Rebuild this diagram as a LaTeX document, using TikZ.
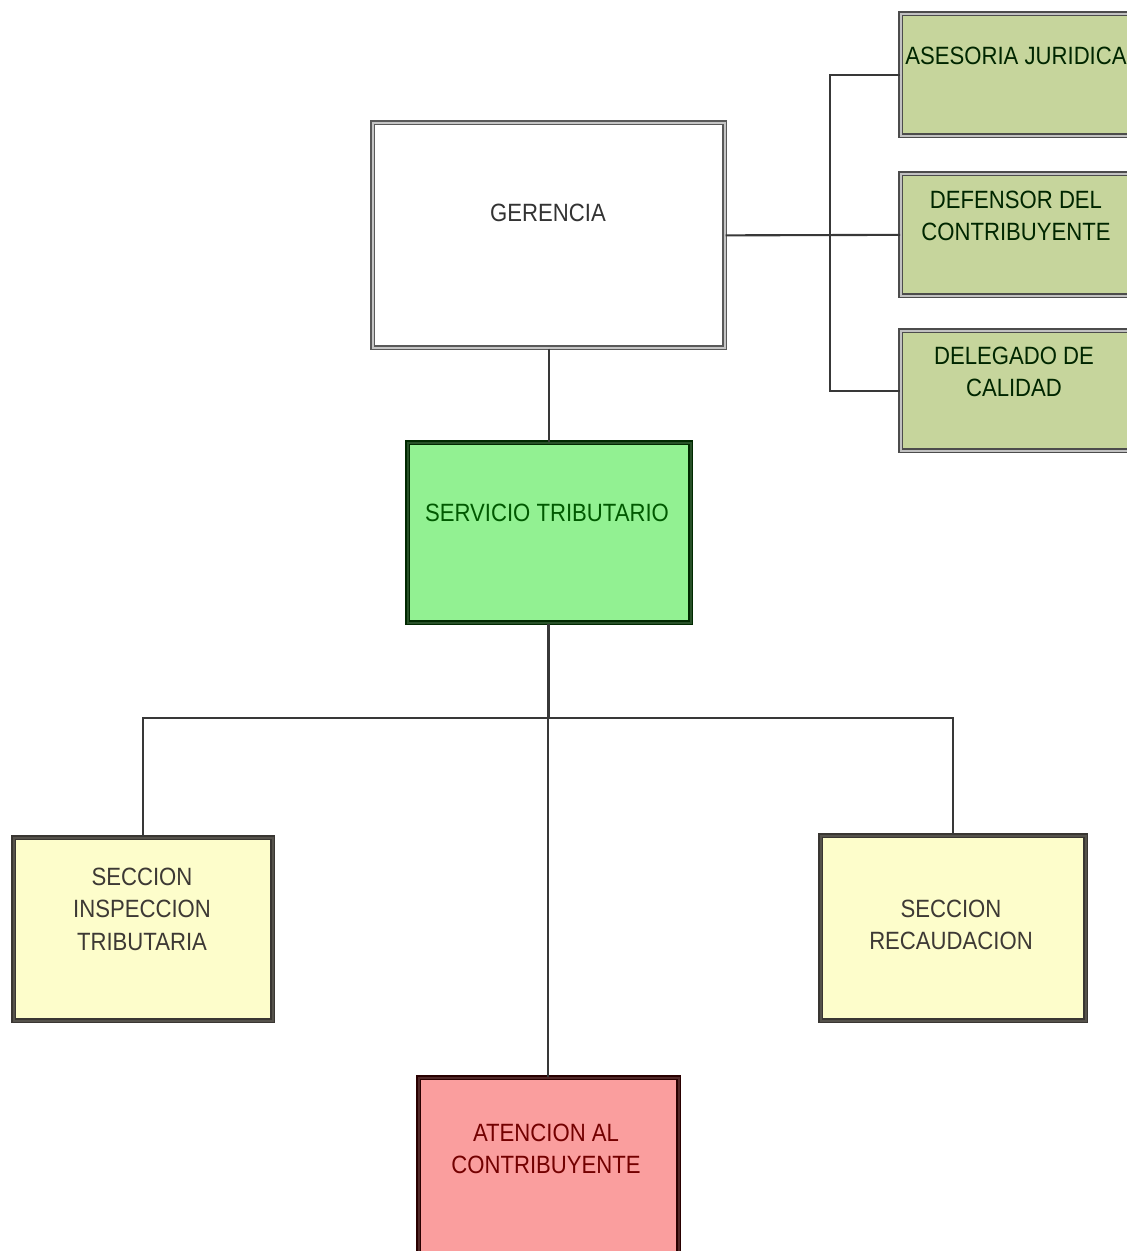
\documentclass[tikz,border=0pt]{standalone}
\usepackage{fontspec}
\setmainfont[FakeStretch=0.885]{Liberation Sans}
\begin{document}
\begin{tikzpicture}[x=1pt,y=-1pt,
  box/.style={rectangle, draw=#1, line width=1.7pt, double=white!65!#1, double distance=1.8pt, inner sep=0pt, anchor=north west},
  lbl/.style={font=\fontsize{25}{32.5}\selectfont, align=center, inner sep=0pt},
  conn/.style={draw=black!78, line width=2.1pt}
]
\definecolor{olivefill}{HTML}{C6D59C}
\definecolor{servfill}{HTML}{92F192}
\definecolor{yelfill}{HTML}{FDFDCB}
\definecolor{redfill}{HTML}{FA9E9E}
\useasboundingbox (0,0) rectangle (1127,1251);
\clip (0,0) rectangle (1127,1251);
\fill[white] (0,0) rectangle (1127,1251);

% boxes
\node[box=black!65, fill=white, minimum width=352pt, minimum height=225pt] (ger) at (372,122) {};
\node[box=black!70, fill=olivefill, minimum width=240pt, minimum height=122pt] (ase) at (900,13) {};
\node[box=black!70, fill=olivefill, minimum width=240pt, minimum height=122pt] (def) at (900,173) {};
\node[box=black!70, fill=olivefill, minimum width=240pt, minimum height=120pt] (del) at (900,330) {};
\node[box=black!60!green!40!black, fill=servfill, minimum width=283pt, minimum height=180pt] (serv) at (407,442) {};
\node[box=black!65!yellow!30!black, fill=yelfill, minimum width=259pt, minimum height=183pt] (ins) at (13,837) {};
\node[box=black!65!yellow!30!black, fill=yelfill, minimum width=265pt, minimum height=185pt] (rec) at (820,835) {};
\node[box=black!60!red!40!black, fill=redfill, minimum width=260pt, minimum height=185pt] (ate) at (418,1077) {};

% labels
\node[lbl, text=black!80] (tger) at (548,213) {GERENCIA};
\node[lbl, text=black!75!green!60!black] (tase) at (1016,56) {ASESORIA JURIDICA};
\node[lbl, text=black!75!green!60!black] (tdef) at (1016,216) {DEFENSOR DEL\\CONTRIBUYENTE};
\node[lbl, text=black!75!green!60!black] (tdel) at (1014,372) {DELEGADO DE\\CALIDAD};
\node[lbl, text=green!35!black] (tserv) at (547,513) {SERVICIO TRIBUTARIO};
\node[lbl, text=black!80!yellow!60!black] (tins) at (142,909) {SECCION\\INSPECCION\\TRIBUTARIA};
\node[lbl, text=black!80!yellow!60!black] (trec) at (951,925) {SECCION\\RECAUDACION};
\node[lbl, text=red!45!black] (tate) at (546,1149) {ATENCION AL\\CONTRIBUYENTE};

% connectors
\coordinate (hub) at (548,718);
\draw[conn] (ger.east) -- (def.west);
\draw[conn] (ase.west) -- ++(-70,0) |- (del.west);
\draw[conn] (ger.south) -- (ger.south |- serv.north);
\draw[conn, line width=3pt] (hub |- serv.south) -- (hub);
\draw[conn] (ins.north) |- (hub) -| (rec.north);
\draw[conn] (hub) -- (hub |- ate.north);
\end{tikzpicture}
\end{document}
